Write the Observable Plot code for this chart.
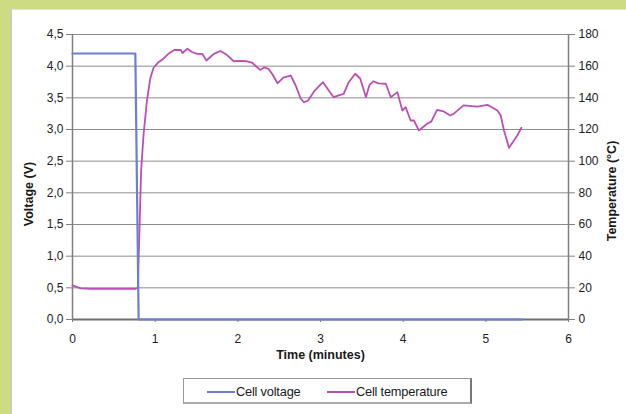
<!DOCTYPE html>
<html>
<head>
<meta charset="utf-8">
<script src="https://cdn.jsdelivr.net/npm/d3@7"></script>
<script src="https://cdn.jsdelivr.net/npm/@observablehq/plot@0.6"></script>
<style>
  html, body { margin: 0; padding: 0; }
  body { width: 626px; height: 414px; background: #cddc82; position: relative; overflow: hidden; font-family: "Liberation Sans", Arial, sans-serif; }
  #panel { position: absolute; left: 10px; top: 9px; width: 616px; height: 405px; background: #fff; border-left: 2px solid #c9c9c9; border-top: 1px solid #e2e2e2; box-sizing: border-box; }
  #chart { position: absolute; left: 0; top: 0; }
  #legend { position: absolute; left: 183px; top: 378px; width: 289px; height: 26px; box-sizing: border-box; border: 1px solid #9a9a9a; border-right: 2px solid #777; border-bottom: 2px solid #aaa; background: #fff; font-size: 12.8px; color: #1a1a1a; }
  .item { display: flex; align-items: center; position: absolute; top: 5px; letter-spacing: -0.2px; }
  .sw { display: inline-block; width: 28px; height: 2px; margin-right: 1px; }
</style>
</head>
<body>
<div id="panel"></div>
<div id="chart"></div>
<div id="legend"></div>
<script>
// Data
const seriesNames = ["Cell voltage", "Cell temperature"];
const seriesColors = ["#6b7fd3", "#bf4db8"];
const axisTitles = ["Time (minutes)", "Voltage (V)", "Temperature (°C)"];

const timeV = [0, 0.76, 0.80, 5.44];
const voltage = [4.2, 4.2, 0, 0];

const timeT = [0, 0.10, 0.22, 0.76, 0.79, 0.81, 0.83, 0.86, 0.90, 0.94, 0.98, 1.04, 1.10, 1.16, 1.23, 1.31, 1.33, 1.39, 1.45, 1.51, 1.57, 1.62, 1.71, 1.79, 1.86, 1.95, 2.03, 2.11, 2.17, 2.21, 2.27, 2.32, 2.37, 2.42, 2.48, 2.55, 2.64, 2.70, 2.76, 2.80, 2.85, 2.93, 3.03, 3.10, 3.16, 3.22, 3.28, 3.34, 3.42, 3.48, 3.55, 3.59, 3.64, 3.70, 3.79, 3.85, 3.93, 3.99, 4.03, 4.09, 4.13, 4.19, 4.29, 4.34, 4.41, 4.49, 4.57, 4.61, 4.73, 4.90, 5.02, 5.14, 5.18, 5.22, 5.28, 5.34, 5.38, 5.43];
const tempC = [21.5, 19.6, 19.3, 19.3, 20.2, 56, 94, 117, 138, 152, 159, 162.5, 164.7, 167.8, 170.2, 170.3, 168.3, 171, 168.8, 167.8, 167.8, 163.6, 167.8, 169.6, 167.4, 163.1, 163.3, 163.1, 162.3, 160.4, 157.7, 159.2, 158.3, 154.7, 149.2, 152.8, 154.1, 147.8, 139.6, 137.2, 138.3, 144.6, 149.9, 144.6, 140.4, 141.5, 142.5, 149.7, 155.2, 152.2, 140.4, 147.8, 150.5, 149.1, 148.9, 140.4, 143.6, 132, 134.1, 125.7, 125.7, 119.4, 123.6, 125, 132.4, 131.4, 128.8, 129.9, 135.2, 134.5, 135.6, 132, 128.8, 119.4, 108.4, 113.1, 116.2, 121.1];

const xTicks = [0, 1, 2, 3, 4, 5, 6];
const yTicks = [0, 0.5, 1, 1.5, 2, 2.5, 3, 3.5, 4, 4.5];
const tempPerVolt = 40; // right axis: 0..180 °C over 0..4.5 V

const vData = timeV.map((t, i) => ({t, v: voltage[i]}));
const tData = timeT.map((t, i) => ({t, v: tempC[i] / tempPerVolt}));

const titleStyle = {fontWeight: "bold", fontSize: 12.5, fill: "#1a1a1a", textAnchor: "middle"};

const plot = Plot.plot({
  width: 626,
  height: 414,
  marginLeft: 72,
  marginRight: 58,
  marginTop: 34,
  marginBottom: 95,
  style: {background: "transparent", fontFamily: "Liberation Sans, Arial, sans-serif", fontSize: "12px", color: "#222"},
  x: {domain: [0, 6]},
  y: {domain: [0, 4.5]},
  marks: [
    Plot.gridY(yTicks.slice(1), {stroke: "#8c8c8c", strokeOpacity: 1, strokeWidth: 1}),
    Plot.ruleX([0, 6], {stroke: "#808080", strokeWidth: 1.5}),
    Plot.ruleY([0], {stroke: "#707070", strokeWidth: 2}),
    Plot.axisX(xTicks, {tickSize: 3, tickPadding: 12, stroke: "#808080", label: null, tickFormat: d => String(d)}),
    Plot.axisY(yTicks, {anchor: "left", tickSize: 6, tickPadding: 3, stroke: "#808080", tickFormat: d => d.toFixed(1).replace(".", ","), label: null}),
    Plot.axisY(yTicks, {anchor: "right", tickSize: 6, tickPadding: 4, stroke: "#808080", tickFormat: d => String(Math.round(d * tempPerVolt)), label: null}),
    Plot.text([axisTitles[0]], {frameAnchor: "bottom", dy: 39, ...titleStyle}),
    Plot.text([axisTitles[1]], {frameAnchor: "left", rotate: -90, dx: -44, dy: 17, ...titleStyle}),
    Plot.text([axisTitles[2]], {frameAnchor: "right", rotate: -90, dx: 43, dy: 14, ...titleStyle}),
    Plot.line(tData, {x: "t", y: "v", stroke: seriesColors[1], strokeWidth: 1.8}),
    Plot.line(vData, {x: "t", y: "v", stroke: seriesColors[0], strokeWidth: 2.2})
  ]
});
document.getElementById("chart").appendChild(plot);

const legend = document.getElementById("legend");
const lefts = [23, 143];
seriesNames.forEach((name, i) => {
  const it = document.createElement("div");
  it.className = "item";
  it.style.left = lefts[i] + "px";
  it.innerHTML = `<span class="sw" style="background:${seriesColors[i]}"></span><span>${name}</span>`;
  legend.appendChild(it);
});
</script>
</body>
</html>
